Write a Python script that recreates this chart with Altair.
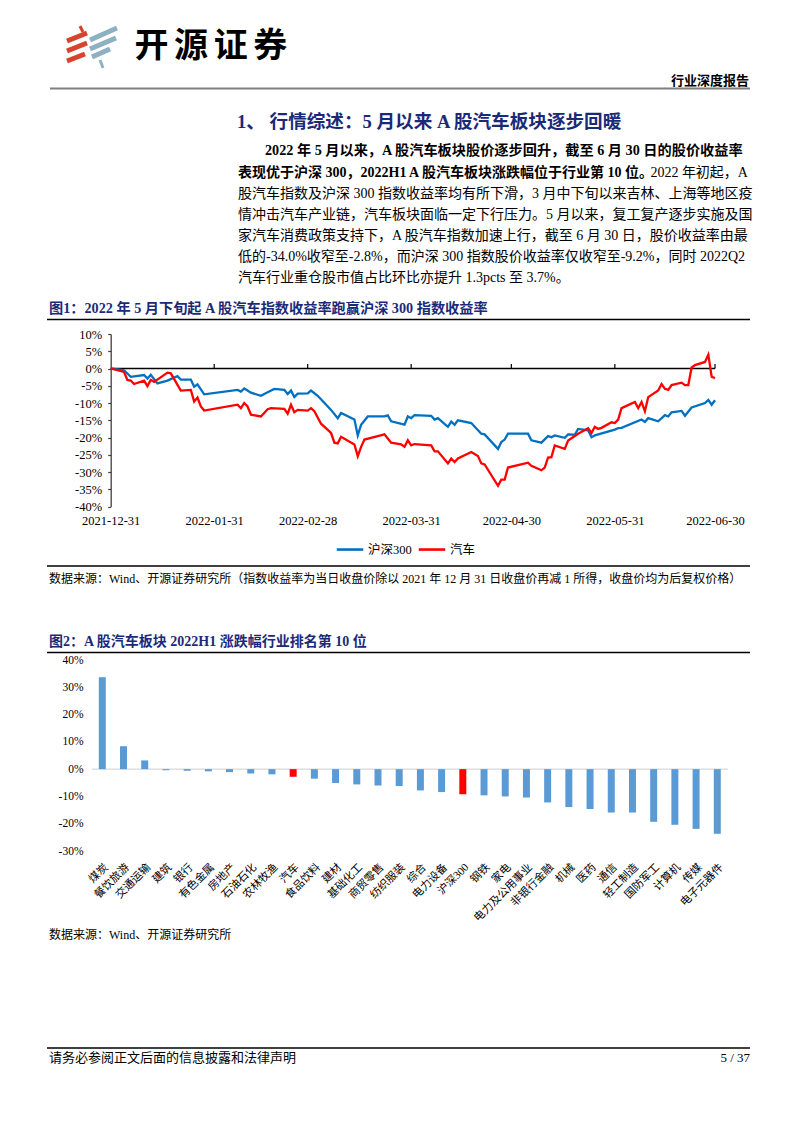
import altair as alt
import pandas as pd

W, H = 778, 1107


def px(v):
    """page coordinate -> plot coordinate (page has an 8px margin)"""
    return v - 8


FONT = "'Liberation Serif', 'Noto Sans CJK SC'"
SANS = "'Noto Sans CJK SC'"
NAVY = "#1B2A78"

# ---------------- data: figure 1 ----------------
series_names = ["沪深300", "汽车"]
series_colors = ["#0070C0", "#FF0000"]

hs300_dates = ["2021-12-31", "2022-01-04", "2022-01-06", "2022-01-10", "2022-01-11", "2022-01-12",
               "2022-01-14", "2022-01-17", "2022-01-20", "2022-01-21", "2022-01-24", "2022-01-25",
               "2022-01-26", "2022-01-28", "2022-02-07", "2022-02-08", "2022-02-09", "2022-02-11",
               "2022-02-14", "2022-02-16", "2022-02-18", "2022-02-21", "2022-02-22", "2022-02-23",
               "2022-02-24", "2022-02-25", "2022-02-28", "2022-03-01", "2022-03-03", "2022-03-07",
               "2022-03-09", "2022-03-10", "2022-03-14", "2022-03-15", "2022-03-16", "2022-03-18",
               "2022-03-23", "2022-03-24", "2022-03-25", "2022-03-29", "2022-03-30", "2022-03-31",
               "2022-04-01", "2022-04-06", "2022-04-07", "2022-04-08", "2022-04-11", "2022-04-12",
               "2022-04-13", "2022-04-14", "2022-04-18", "2022-04-21", "2022-04-22", "2022-04-26",
               "2022-04-27", "2022-04-28", "2022-04-29", "2022-05-05", "2022-05-06", "2022-05-09",
               "2022-05-11", "2022-05-12", "2022-05-13", "2022-05-16", "2022-05-17", "2022-05-19",
               "2022-05-20", "2022-05-23", "2022-05-24", "2022-05-25", "2022-05-31", "2022-06-01",
               "2022-06-02", "2022-06-08", "2022-06-09", "2022-06-10", "2022-06-13", "2022-06-15",
               "2022-06-16", "2022-06-17", "2022-06-20", "2022-06-21", "2022-06-23", "2022-06-27",
               "2022-06-28", "2022-06-29", "2022-06-30"]
hs300_vals = [0, -0.5, -2.4, -1.9, -2.9, -1.8, -4.3, -3.5, -2.2, -3.2,
              -3.2, -5.3, -4.6, -7.5, -6.2, -6.7, -5.8, -7.0, -7.9, -6.9,
              -5.9, -6.2, -7.4, -6.4, -8.3, -7.3, -7.2, -6.4, -7.9, -12.0,
              -14.4, -12.9, -14.8, -19.4, -16.3, -13.9, -13.9, -13.6, -15.3, -16.3,
              -13.9, -14.4, -13.5, -13.7, -14.8, -14.4, -16.9, -15.4, -16.3, -15.0,
              -15.8, -18.9, -19.1, -23.3, -21.3, -20.6, -18.9, -18.9, -20.8, -21.5,
              -19.6, -19.9, -19.4, -20.1, -19.1, -19.2, -17.5, -17.9, -19.9, -19.4,
              -17.7, -17.3, -17.2, -14.8, -15.5, -14.4, -15.3, -13.5, -13.9, -12.7,
              -12.3, -13.7, -11.3, -10.0, -9.1, -10.5, -9.2]

auto_dates = ["2021-12-31", "2022-01-04", "2022-01-05", "2022-01-06", "2022-01-07", "2022-01-10",
              "2022-01-11", "2022-01-12", "2022-01-13", "2022-01-17", "2022-01-18", "2022-01-21",
              "2022-01-24", "2022-01-25", "2022-01-26", "2022-01-27", "2022-01-28", "2022-02-07",
              "2022-02-08", "2022-02-09", "2022-02-10", "2022-02-11", "2022-02-14", "2022-02-16",
              "2022-02-17", "2022-02-21", "2022-02-22", "2022-02-23", "2022-02-24", "2022-02-25",
              "2022-02-28", "2022-03-01", "2022-03-02", "2022-03-04", "2022-03-07", "2022-03-08",
              "2022-03-09", "2022-03-10", "2022-03-14", "2022-03-15", "2022-03-16", "2022-03-17",
              "2022-03-21", "2022-03-23", "2022-03-25", "2022-03-28", "2022-03-29", "2022-03-30",
              "2022-03-31", "2022-04-01", "2022-04-06", "2022-04-07", "2022-04-08", "2022-04-11",
              "2022-04-12", "2022-04-13", "2022-04-14", "2022-04-18", "2022-04-20", "2022-04-21",
              "2022-04-22", "2022-04-26", "2022-04-27", "2022-04-28", "2022-04-29", "2022-05-05",
              "2022-05-06", "2022-05-09", "2022-05-10", "2022-05-11", "2022-05-12", "2022-05-13",
              "2022-05-16", "2022-05-17", "2022-05-20", "2022-05-23", "2022-05-24", "2022-05-25",
              "2022-05-26", "2022-05-27", "2022-05-30", "2022-05-31", "2022-06-01", "2022-06-02",
              "2022-06-06", "2022-06-07", "2022-06-08", "2022-06-09", "2022-06-10", "2022-06-13",
              "2022-06-14", "2022-06-15", "2022-06-16", "2022-06-17", "2022-06-20", "2022-06-21",
              "2022-06-22", "2022-06-23", "2022-06-24", "2022-06-27", "2022-06-28", "2022-06-29",
              "2022-06-30"]
auto_vals = [0, -1.0, -3.3, -3.5, -4.5, -3.5, -5.1, -3.3, -3.9, -1.2,
             -1.4, -6.4, -6.2, -9.6, -8.4, -11.0, -12.2, -10.5, -11.5, -10.0,
             -11.0, -13.4, -13.9, -11.8, -11.5, -11.7, -13.1, -10.5, -12.7, -12.0,
             -12.2, -11.5, -12.4, -16.0, -18.7, -21.5, -21.7, -19.8, -22.0, -25.4,
             -22.7, -20.6, -19.6, -19.1, -21.5, -22.0, -22.7, -20.8, -22.3, -21.9,
             -22.3, -24.0, -24.0, -27.5, -26.1, -27.1, -26.1, -24.2, -25.4, -27.5,
             -27.8, -34.0, -32.2, -32.2, -28.7, -27.3, -28.2, -29.5, -28.7, -25.8,
             -25.7, -22.3, -23.3, -20.9, -18.9, -17.3, -18.7, -16.9, -17.5, -17.2,
             -15.6, -15.8, -14.8, -11.5, -9.7, -11.5, -9.7, -12.4, -8.3, -6.4,
             -4.5, -5.9, -6.2, -4.8, -4.1, -4.8, -4.8, 0.3, 1.0, 1.9,
             4.0, -2.4, -2.8]

x1_ticks = ["2021-12-31", "2022-01-31", "2022-02-28", "2022-03-31", "2022-04-30", "2022-05-31", "2022-06-30"]
y1_ticks = [10, 5, 0, -5, -10, -15, -20, -25, -30, -35, -40]

# ---------------- data: figure 2 ----------------
industries = ["煤炭", "餐饮旅游", "交通运输", "建筑", "银行", "有色金属", "房地产", "石油石化", "农林牧渔",
              "汽车", "食品饮料", "建材", "基础化工", "商贸零售", "纺织服装", "综合", "电力设备", "沪深300",
              "钢铁", "家电", "电力及公用事业", "非银行金融", "机械", "医药", "通信", "轻工制造", "国防军工",
              "计算机", "传媒", "电子元器件"]
returns = [33.7, 8.4, 3.2, -0.4, -0.6, -0.8, -1.1, -1.6, -1.9,
           -2.8, -3.5, -5.1, -5.6, -6.0, -6.2, -7.8, -8.4, -9.2,
           -9.6, -10.0, -10.4, -12.2, -13.9, -14.6, -15.9, -15.9, -19.3,
           -20.4, -21.9, -23.7]
highlight = ["汽车", "沪深300"]
y2_ticks = [40, 30, 20, 10, 0, -10, -20, -30]

# ---------------- texts ----------------
section_title = "1、 行情综述：5 月以来 A 股汽车板块逐步回暖"
para_l1 = "2022 年 5 月以来，A 股汽车板块股价逐步回升，截至 6 月 30 日的股价收益率"
para_l2_bold = "表现优于沪深 300，2022H1 A 股汽车板块涨跌幅位于行业第 10 位。"
para_l2_rest = "2022 年初起，A"
para_rest = [
    "股汽车指数及沪深 300 指数收益率均有所下滑，3 月中下旬以来吉林、上海等地区疫",
    "情冲击汽车产业链，汽车板块面临一定下行压力。5 月以来，复工复产逐步实施及国",
    "家汽车消费政策支持下，A 股汽车指数加速上行，截至 6 月 30 日，股价收益率由最",
    "低的-34.0%收窄至-2.8%，而沪深 300 指数股价收益率仅收窄至-9.2%，同时 2022Q2",
    "汽车行业重仓股市值占比环比亦提升 1.3pcts 至 3.7%。",
]
fig1_title = "图1：2022 年 5 月下旬起 A 股汽车指数收益率跑赢沪深 300 指数收益率"
fig1_source = "数据来源：Wind、开源证券研究所（指数收益率为当日收盘价除以 2021 年 12 月 31 日收盘价再减 1 所得，收盘价均为后复权价格）"
fig2_title = "图2：A 股汽车板块 2022H1 涨跌幅行业排名第 10 位"
fig2_source = "数据来源：Wind、开源证券研究所"
footer_left = "请务必参阅正文后面的信息披露和法律声明"
footer_right = "5 / 37"
logo_chars = ["开", "源", "证", "券"]
report_type = "行业深度报告"

layers = []


def text(t, x, y, size, align="left", bold=False, color="black", font=FONT):
    return alt.Chart().mark_text(
        text=t, align=align, baseline="middle", font=font, fontSize=size,
        fontWeight="bold" if bold else "normal", color=color,
    ).encode(x=alt.value(px(x)), y=alt.value(px(y)))


def hline(x1, x2, y, color="black", w=1.3):
    return alt.Chart().mark_rule(color=color, strokeWidth=w).encode(
        x=alt.value(px(x1)), x2=alt.value(px(x2)), y=alt.value(px(y)))


def seg(x1, y1, x2, y2, color, w):
    return alt.Chart().mark_rule(color=color, strokeWidth=w, strokeCap="butt").encode(
        x=alt.value(px(x1)), x2=alt.value(px(x2)), y=alt.value(px(y1)), y2=alt.value(px(y2)))


# ---- header / logo ----
RED_LOGO = "#D8432E"
BLUE_LOGO = "#8DB0C3"
layers += [
    seg(80, 26, 83, 32, RED_LOGO, 3),
    seg(67, 41, 87, 33, RED_LOGO, 5),
    seg(67, 51, 87, 43, RED_LOGO, 5),
    seg(67, 61, 85, 54, RED_LOGO, 5),
    seg(90, 40, 117, 28, BLUE_LOGO, 5),
    seg(90, 49, 116, 38, BLUE_LOGO, 5),
    seg(92, 57, 110, 49, BLUE_LOGO, 5),
    seg(100, 60, 103, 68, BLUE_LOGO, 3),
]
for i, ch in enumerate(logo_chars):
    layers.append(text(ch, 151.5 + i * 39.6, 47, 34, align="center", bold=True, font=SANS))
layers.append(text(report_type, 749, 81, 13, align="right", bold=True))
layers.append(hline(50, 750, 88.5, color="#7F7F7F", w=2))

# ---- section title + paragraph ----
layers.append(text(section_title, 237, 122, 18.6, bold=True, color=NAVY))
layers.append(text(para_l1, 265, 151, 14.2, bold=True))
layers.append(text(para_l2_bold, 238, 172.5, 14, bold=True))
layers.append(text(para_l2_rest, 748, 172.5, 14, align="right"))
for i, t in enumerate(para_rest):
    layers.append(text(t, 238, 194 + i * 21.1, 14))

# ---- figure 1 frame ----
layers.append(text(fig1_title, 49, 309, 14.2, bold=True, color=NAVY))
layers.append(hline(47, 750, 319.5))

lines_df = pd.concat([
    pd.DataFrame({"date": hs300_dates, "ret": hs300_vals, "series": series_names[0]}),
    pd.DataFrame({"date": auto_dates, "ret": auto_vals, "series": series_names[1]}),
], ignore_index=True)


def dt(s):
    y, m, d = (int(v) for v in s.split("-"))
    return alt.DateTime(year=y, month=m, date=d, utc=True)


x1_scale = alt.Scale(type="utc", domain=[dt(x1_ticks[0]), dt(x1_ticks[-1])],
                     range=[px(110.7), px(715)], nice=False)
y1_scale = alt.Scale(domain=[-40, 10], range=[px(506.5), px(334)], nice=False, zero=False)

zero1 = alt.Chart().mark_rule(color="black", strokeWidth=1.3).encode(
    x=alt.X(datum=dt(x1_ticks[0]), type="temporal", scale=x1_scale, axis=None),
    x2=alt.X2(datum=dt(x1_ticks[-1])),
    y=alt.Y(datum=0, type="quantitative", scale=y1_scale, axis=None),
)
ticks1 = alt.Chart(pd.DataFrame({"d": x1_ticks[1:]})).mark_rule(color="black", strokeWidth=1.2).encode(
    x=alt.X("d:T", scale=x1_scale, axis=None),
    y=alt.Y(datum=0, type="quantitative", scale=y1_scale, axis=None),
    y2=alt.Y2(datum=1.3),
)
line = alt.Chart(lines_df).mark_line(strokeWidth=2.3).encode(
    x=alt.X("date:T", scale=x1_scale, title=None,
            axis=alt.Axis(orient="bottom", offset=px(506.5) - H, values=[dt(v) for v in x1_ticks],
                          labelExpr="utcFormat(datum.value, '%Y-%m-%d')", domain=False, ticks=False,
                          grid=False, labelPadding=8, labelFont=FONT, labelFontSize=12.5,
                          labelColor="black", labelOverlap=False, labelFlush=False, labelBound=False)),
    y=alt.Y("ret:Q", scale=y1_scale, title=None,
            axis=alt.Axis(orient="left", offset=-px(110.7), values=y1_ticks,
                          labelExpr="datum.value + '%'", grid=False, domainColor="#404040",
                          domainWidth=1.3, tickColor="#404040", tickSize=3, tickWidth=1.2,
                          labelPadding=6, labelFont=FONT, labelFontSize=12.5, labelColor="black",
                          labelOverlap=False, labelFlush=False, labelBound=False)),
    color=alt.Color("series:N", scale=alt.Scale(domain=series_names, range=series_colors),
                    legend=alt.Legend(orient="none", legendX=px(335), legendY=px(547.3) - 13,
                                      direction="horizontal", title=None, symbolType="stroke",
                                      symbolStrokeWidth=2.6, symbolSize=700, labelFont=FONT,
                                      labelFontSize=12.5, labelColor="black", columnPadding=1,
                                      labelOffset=3, padding=0)),
)
layers += [zero1, ticks1, line]

layers.append(hline(47, 750, 566))
layers.append(text(fig1_source, 49, 579, 12))

# ---- figure 2 ----
layers.append(text(fig2_title, 49, 642, 14, bold=True, color=NAVY))
layers.append(hline(47, 750, 652.5))

bar_df = pd.DataFrame({"industry": industries, "ret": returns})
x2_scale = alt.Scale(domain=industries, range=[px(91.7), px(727.9)], paddingInner=0.67, paddingOuter=0.335)
y2_scale = alt.Scale(domain=[-30, 40], range=[px(851), px(660)], nice=False, zero=False)

zero2 = alt.Chart().mark_rule(color="#D9D9D9", strokeWidth=1.3).encode(
    x=alt.value(px(92)), x2=alt.value(px(728)),
    y=alt.Y(datum=0, type="quantitative", scale=y2_scale, axis=None),
)
bars = alt.Chart(bar_df).mark_bar().encode(
    x=alt.X("industry:N", sort=industries, scale=x2_scale, title=None,
            axis=alt.Axis(orient="bottom", offset=px(853) - H, labelAngle=-45, labelAlign="right",
                          labelBaseline="top", domain=False, ticks=False, grid=False, labelPadding=8,
                          labelFont=FONT, labelFontSize=11, labelColor="black",
                          labelOverlap=False, labelBound=False, labelLimit=0)),
    y=alt.Y("ret:Q", scale=y2_scale, title=None,
            axis=alt.Axis(orient="left", offset=-px(85), values=y2_ticks, labelExpr="datum.value + '%'",
                          domain=False, ticks=False, grid=False, labelPadding=2, labelFont=FONT,
                          labelFontSize=11.5, labelColor="black", labelOverlap=False,
                          labelFlush=False, labelBound=False)),
    color=alt.condition(alt.FieldOneOfPredicate(field="industry", oneOf=highlight),
                        alt.value("#FF0000"), alt.value("#5B9BD5")),
)
layers += [zero2, bars]
layers.append(text(fig2_source, 49, 935, 12))

# ---- footer ----
layers.append(hline(47, 750, 1048))
layers.append(text(footer_left, 49, 1058, 13))
layers.append(text(footer_right, 750, 1058, 13, align="right"))

chart = alt.layer(*layers).resolve_scale(
    x="independent", y="independent", color="independent"
).properties(
    width=W, height=H, padding=0, autosize=alt.AutoSizeParams(type="none"), background="white"
).configure_view(strokeWidth=0)

chart.save("out.html", embed_options={"renderer": "svg", "actions": False})
